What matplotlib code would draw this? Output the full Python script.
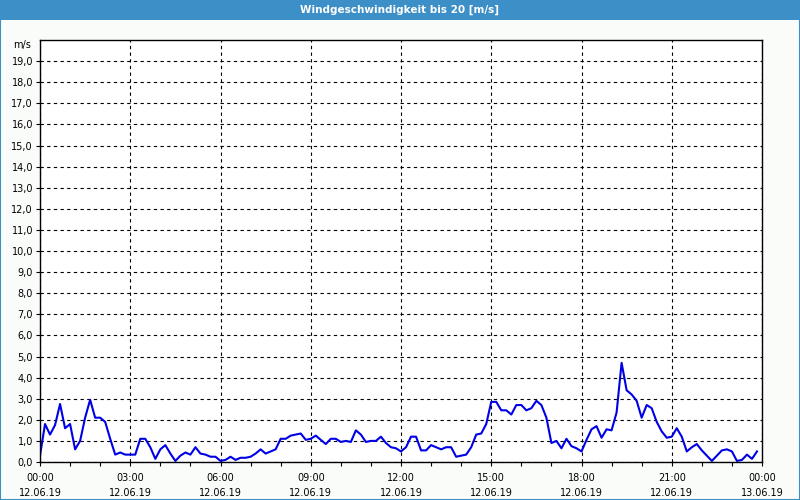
import numpy as np
import matplotlib
matplotlib.use("Agg")
import matplotlib.pyplot as plt
from matplotlib.patches import Rectangle

# Windgeschwindigkeit, 10-Minuten-Werte ab 12.06.19 00:00
speed = [
    0.3, 1.8, 1.3, 1.75, 2.75, 1.6, 1.8, 0.6, 1.0, 2.1, 2.95, 2.1,
    2.1, 1.9, 1.1, 0.35, 0.45, 0.35, 0.35, 0.35, 1.1, 1.1, 0.7, 0.15,
    0.6, 0.8, 0.4, 0.05, 0.3, 0.45, 0.35, 0.7, 0.4, 0.35, 0.25, 0.25,
    0.05, 0.1, 0.25, 0.1, 0.2, 0.2, 0.25, 0.4, 0.6, 0.4, 0.5, 0.6,
    1.1, 1.1, 1.25, 1.3, 1.35, 1.05, 1.1, 1.25, 1.05, 0.85, 1.1, 1.1,
    0.95, 1.0, 0.95, 1.5, 1.3, 0.95, 1.0, 1.0, 1.2, 0.9, 0.7, 0.65,
    0.5, 0.7, 1.2, 1.2, 0.55, 0.55, 0.8, 0.7, 0.6, 0.7, 0.7, 0.25,
    0.3, 0.35, 0.7, 1.3, 1.35, 1.8, 2.85, 2.85, 2.45, 2.45, 2.25, 2.7,
    2.7, 2.45, 2.55, 2.9, 2.7, 2.1, 0.9, 1.0, 0.65, 1.1, 0.75, 0.65,
    0.5, 1.05, 1.55, 1.7, 1.15, 1.55, 1.5, 2.35, 4.7, 3.4, 3.2, 2.9,
    2.1, 2.7, 2.55, 1.9, 1.45, 1.15, 1.2, 1.6, 1.2, 0.5, 0.7, 0.85,
    0.55, 0.3, 0.05, 0.3, 0.55, 0.6, 0.5, 0.05, 0.1, 0.35, 0.15, 0.5,
]
hours = np.arange(len(speed)) / 6.0

tick_hours = [0, 3, 6, 9, 12, 15, 18, 21, 24]
tick_times = ["00:00", "03:00", "06:00", "09:00", "12:00", "15:00", "18:00", "21:00", "00:00"]
tick_dates = ["12.06.19"] * 8 + ["13.06.19"]
y_ticks = list(range(0, 20))

title = "Windgeschwindigkeit bis 20 [m/s]"
blue_bar = "#3c8fc7"

plt.rcParams["font.family"] = ["DejaVu Sans"]

fig = plt.figure(figsize=(8, 5), dpi=100, facecolor="#fafcfa")

# title bar + window border
fig.patches.append(Rectangle((0, 0.96), 1, 0.04, transform=fig.transFigure,
                             facecolor=blue_bar, edgecolor="none"))
fig.patches.append(Rectangle((0.0006, 0.001), 0.9988, 0.998, transform=fig.transFigure,
                             facecolor="none", edgecolor=blue_bar, linewidth=1.5))
fig.text(0.5, 0.98, title, color="white", fontsize=7.5, fontweight="bold",
         ha="center", va="center")

ax = fig.add_axes([0.05, 0.076, 0.9025, 0.844])
ax.set_facecolor("white")
ax.plot(hours, speed, color="#0000e6", linewidth=1.5)

ax.set_xlim(0, 24)
ax.set_ylim(0, 20)

ax.set_yticks(y_ticks)
ax.set_yticklabels([f"{v},0" for v in y_ticks])
ax.set_xticks(tick_hours)
ax.set_xticklabels([f"{t}\n{d}" for t, d in zip(tick_times, tick_dates)],
                   linespacing=1.55)
ax.set_xticks(range(0, 25), minor=True)

ax.tick_params(axis="both", which="major", length=3, width=0.8, labelsize=7,
               direction="out", pad=2, colors="black")
ax.tick_params(axis="x", which="major", pad=5)
ax.tick_params(axis="x", which="minor", length=3, width=0.8, direction="out")

ax.grid(True, axis="both", which="major", color="black", linestyle=(0, (3, 3)),
        linewidth=0.8)

for s in ax.spines.values():
    s.set_color("black")
    s.set_linewidth(1)

ax.text(-0.012, 19.75, "m/s", transform=ax.get_yaxis_transform(),
        ha="right", va="center", fontsize=7)

fig.savefig("out.png", dpi=100, facecolor=fig.get_facecolor())
